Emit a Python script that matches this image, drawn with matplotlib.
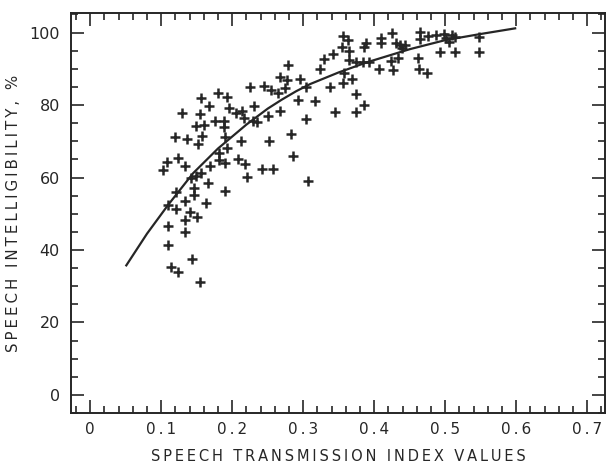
import matplotlib
matplotlib.use("Agg")
import matplotlib.pyplot as plt
from matplotlib.ticker import MultipleLocator, FixedLocator

# Measured speech transmission index and intelligibility scores
sti_values = [
    0.155, 0.114, 0.124, 0.143, 0.109, 0.109, 0.133, 0.133, 0.150, 0.141,
    0.121, 0.109, 0.134, 0.163, 0.121, 0.146, 0.190, 0.146, 0.166, 0.142,
    0.156, 0.149, 0.103, 0.108, 0.124, 0.134, 0.169, 0.181, 0.190, 0.182,
    0.192, 0.208, 0.218, 0.221, 0.242, 0.258, 0.213, 0.252, 0.283, 0.285,
    0.307, 0.120, 0.136, 0.152, 0.157, 0.149, 0.160, 0.176, 0.188, 0.189,
    0.190, 0.129, 0.154, 0.167, 0.156, 0.180, 0.193, 0.195, 0.205, 0.214,
    0.217, 0.230, 0.225, 0.245, 0.254, 0.268, 0.277, 0.279, 0.275, 0.265,
    0.250, 0.268, 0.292, 0.296, 0.304, 0.317, 0.304, 0.229, 0.235, 0.324,
    0.329, 0.342, 0.338, 0.345, 0.356, 0.357, 0.369, 0.375, 0.385, 0.375,
    0.356, 0.363, 0.354, 0.365, 0.365, 0.375, 0.384, 0.393, 0.385, 0.388,
    0.407, 0.409, 0.410, 0.425, 0.427, 0.423, 0.434, 0.431, 0.437, 0.444,
    0.439, 0.462, 0.463, 0.474, 0.465, 0.465, 0.476, 0.487, 0.498, 0.501,
    0.509, 0.514, 0.505, 0.493, 0.514, 0.547, 0.547,
]
intelligibility = [
    31.3, 35.4, 34.0, 37.4, 41.4, 46.6, 45.0, 48.2, 49.1, 50.6,
    51.2, 52.4, 53.6, 53.0, 56.1, 55.3, 56.3, 57.2, 58.6, 60.0,
    61.2, 60.4, 62.1, 64.4, 65.4, 63.3, 63.1, 64.7, 64.1, 66.7,
    68.1, 65.0, 63.8, 60.1, 62.3, 62.3, 70.1, 70.1, 71.9, 66.0,
    59.0, 71.2, 70.6, 69.3, 71.4, 74.1, 74.4, 75.6, 75.7, 73.8,
    71.3, 77.9, 77.6, 79.7, 81.9, 83.4, 82.2, 79.1, 77.9, 78.3,
    76.3, 79.7, 85.0, 85.2, 84.2, 87.8, 86.8, 91.0, 84.7, 83.2,
    77.1, 78.3, 81.4, 87.1, 84.9, 81.2, 76.1, 75.6, 75.2, 90.0,
    92.6, 94.0, 85.0, 78.1, 86.1, 88.8, 87.1, 83.0, 80.0, 78.1,
    99.0, 97.9, 96.1, 94.8, 92.3, 91.9, 91.9, 91.9, 96.1, 97.1,
    90.0, 98.4, 97.0, 100.0, 89.7, 92.1, 93.0, 97.0, 96.6, 96.6,
    95.6, 92.9, 90.0, 88.7, 100.1, 98.3, 99.0, 99.3, 99.6, 98.4,
    99.3, 98.8, 97.5, 94.7, 94.7, 98.8, 94.7,
]

# Fitted relation between STI and intelligibility
curve_sti = [0.05, 0.08, 0.11, 0.145, 0.18, 0.22, 0.25, 0.27, 0.29, 0.31,
             0.35, 0.39, 0.45, 0.50, 0.55, 0.60]
curve_intel = [35.5, 44.5, 52.5, 61.2, 68.0, 74.6, 79.0, 81.5, 83.8, 85.8,
               89.0, 91.8, 95.4, 97.9, 99.6, 101.2]

x_tick_values = [0, 0.1, 0.2, 0.3, 0.4, 0.5, 0.6, 0.7]
x_tick_labels = ["0", "0.1", "0.2", "0.3", "0.4", "0.5", "0.6", "0.7"]
y_tick_values = [0, 20, 40, 60, 80, 100]
y_tick_labels = ["0", "20", "40", "60", "80", "100"]

ink = "#262626"
fam = "DejaVu Sans"


def spaced(s, sep="\u2009"):
    return sep.join(s)


fig = plt.figure(figsize=(6.07, 4.67), dpi=100)
ax = fig.add_axes([0.1170, 0.115, 0.8797, 0.8565])

ax.plot(curve_sti, curve_intel, color=ink, lw=1.6, solid_capstyle="butt",
        solid_joinstyle="round", zorder=3)
ax.plot(sti_values, intelligibility, linestyle="none", marker="+",
        markersize=6.6, markeredgewidth=1.8, color=ink, zorder=4)

ax.set_xlim(-0.027, 0.725)
ax.set_ylim(-5.05, 105.3)

ax.xaxis.set_major_locator(FixedLocator(x_tick_values))
ax.xaxis.set_minor_locator(MultipleLocator(0.02))
ax.yaxis.set_major_locator(FixedLocator(y_tick_values))
ax.yaxis.set_minor_locator(MultipleLocator(5))
ax.set_xticklabels([spaced(t) for t in x_tick_labels], family=fam,
                   fontsize=11, color=ink)
ax.set_yticklabels(y_tick_labels, family=fam, fontsize=11.5, color=ink)

ax.tick_params(which="both", direction="in", top=True, right=True,
               color=ink, width=1.2)
ax.tick_params(which="major", length=9.5)
ax.tick_params(which="minor", length=5)
ax.tick_params(axis="x", which="major", pad=6)
ax.tick_params(axis="y", which="major", pad=8)

for sp in ax.spines.values():
    sp.set_color(ink)
    sp.set_linewidth(1.4)

ax.set_xlabel(spaced("SPEECH TRANSMISSION INDEX VALUES"),
              family=fam, fontsize=10.5, color=ink, labelpad=9)
ax.set_ylabel(spaced("SPEECH INTELLIGIBILITY, %"),
              family=fam, fontsize=10.8, color=ink, labelpad=6)

fig.savefig("out.png", dpi=100, facecolor="white")
